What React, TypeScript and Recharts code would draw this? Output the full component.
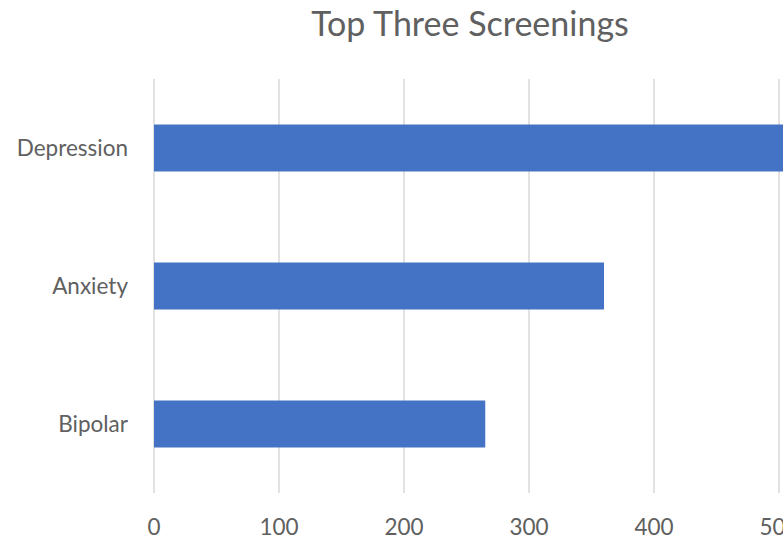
import { BarChart, Bar, XAxis, YAxis, CartesianGrid } from "recharts";

const categories = ["Depression", "Anxiety", "Bipolar"];
const screenings = [560, 360, 265];
const xTicks = [0, 100, 200, 300, 400, 500, 600];

const data = categories.map((name, i) => ({ name, value: screenings[i] }));

const axisFont = { fontSize: 22.5, fill: "#606060", fontFamily: "Lato, sans-serif" };

export default function App() {
  return (
    <div style={{ position: "absolute", left: 0, top: 0, width: 940, height: 539 }}>
      <div
        style={{
          position: "absolute",
          left: 0,
          width: 940,
          top: 2,
          textAlign: "center",
          fontFamily: "Lato, sans-serif",
          fontSize: 34,
          color: "#606060",
        }}
      >
        Top Three Screenings
      </div>
      <BarChart
        width={940}
        height={539}
        data={data}
        layout="vertical"
        margin={{ top: 79, right: 36, bottom: 0, left: 0 }}
        barCategoryGap="33%"
      >
        <CartesianGrid horizontal={false} stroke="#d9d9d9" strokeWidth={1.5} />
        <XAxis
          type="number"
          domain={[0, 600]}
          ticks={xTicks}
          axisLine={false}
          tickLine={false}
          tick={axisFont}
          tickMargin={20}
          height={46}
        />
        <YAxis
          type="category"
          dataKey="name"
          axisLine={false}
          tickLine={false}
          tick={axisFont}
          tickMargin={20}
          width={154}
        />
        <Bar dataKey="value" fill="#4472C4" isAnimationActive={false} />
      </BarChart>
    </div>
  );
}
